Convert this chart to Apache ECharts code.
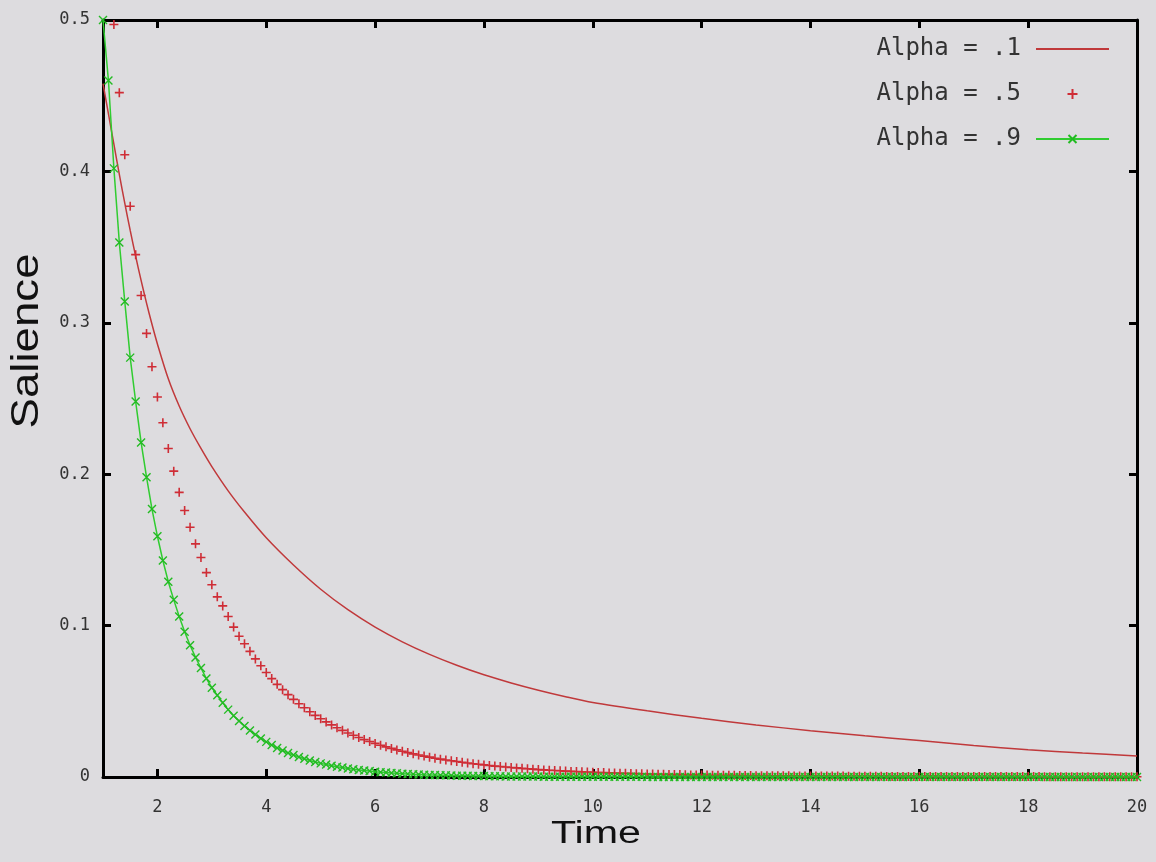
<!DOCTYPE html>
<html><head><meta charset="utf-8">
<script src="https://cdn.jsdelivr.net/npm/echarts@6/dist/echarts.min.js"></script>
<style>html,body{margin:0;padding:0;background:#dddcdf}#c{width:1156px;height:862px}</style>
</head><body><div id="c"></div>
<script>
// sample times (0.1 steps)
const time = [
1.0,1.1,1.2,1.3,1.4,1.5,1.6,1.7,1.8,1.9,
2.0,2.1,2.2,2.3,2.4,2.5,2.6,2.7,2.8,2.9,
3.0,3.1,3.2,3.3,3.4,3.5,3.6,3.7,3.8,3.9,
4.0,4.1,4.2,4.3,4.4,4.5,4.6,4.7,4.8,4.9,
5.0,5.1,5.2,5.3,5.4,5.5,5.6,5.7,5.8,5.9,
6.0,6.1,6.2,6.3,6.4,6.5,6.6,6.7,6.8,6.9,
7.0,7.1,7.2,7.3,7.4,7.5,7.6,7.7,7.8,7.9,
8.0,8.1,8.2,8.3,8.4,8.5,8.6,8.7,8.8,8.9,
9.0,9.1,9.2,9.3,9.4,9.5,9.6,9.7,9.8,9.9,
10.0,10.1,10.2,10.3,10.4,10.5,10.6,10.7,10.8,10.9,
11.0,11.1,11.2,11.3,11.4,11.5,11.6,11.7,11.8,11.9,
12.0,12.1,12.2,12.3,12.4,12.5,12.6,12.7,12.8,12.9,
13.0,13.1,13.2,13.3,13.4,13.5,13.6,13.7,13.8,13.9,
14.0,14.1,14.2,14.3,14.4,14.5,14.6,14.7,14.8,14.9,
15.0,15.1,15.2,15.3,15.4,15.5,15.6,15.7,15.8,15.9,
16.0,16.1,16.2,16.3,16.4,16.5,16.6,16.7,16.8,16.9,
17.0,17.1,17.2,17.3,17.4,17.5,17.6,17.7,17.8,17.9,
18.0,18.1,18.2,18.3,18.4,18.5,18.6,18.7,18.8,18.9,
19.0,19.1,19.2,19.3,19.4,19.5,19.6,19.7,19.8,19.9,
20.0];

// Alpha = .5 (points)
const alpha05 = [
null,null,0.497,0.452,0.411,0.377,0.345,0.318,0.293,0.271,
0.251,0.234,0.217,0.202,0.188,0.176,0.165,0.154,0.145,0.135,
0.127,0.119,0.113,0.106,0.099,0.093,0.088,0.083,0.078,0.0735,
0.069,0.065,0.0612,0.0577,0.0544,0.0513,0.0484,0.0457,0.0431,0.0407,
0.0385,0.0364,0.0344,0.0325,0.0308,0.0291,0.0276,0.0261,0.0247,0.0234,
0.0222,0.021,0.0199,0.0189,0.0179,0.017,0.0161,0.0153,0.0145,0.0138,
0.0131,0.0124,0.0118,0.0112,0.0107,0.0102,0.0097,0.0092,0.0088,0.0084,
0.008,0.0076,0.0072,0.0069,0.0066,0.0063,0.006,0.0057,0.0054,0.0052,
0.0049,0.0047,0.0045,0.0043,0.0041,0.0039,0.0037,0.0036,0.0034,0.0033,
0.0031,0.003,0.0029,0.0027,0.0026,0.0025,0.0024,0.0023,0.0022,0.0021,
0.002,0.0019,0.0018,0.0018,0.0017,0.0016,0.0016,0.0015,0.0014,0.0014,
0.0013,0.0013,0.0012,0.0012,0.0011,0.0011,0.0011,0.001,0.001,0.001,
0.0009,0.0009,0.0009,0.0008,0.0008,0.0008,0.0008,0.0007,0.0007,0.0007,
0.0007,0.0006,0.0006,0.0006,0.0006,0.0006,0.0006,0.0005,0.0005,0.0005,
0.0005,0.0005,0.0005,0.0005,0.0004,0.0004,0.0004,0.0004,0.0004,0.0004,
0.0004,0.0004,0.0004,0.0004,0.0004,0.0003,0.0003,0.0003,0.0003,0.0003,
0.0003,0.0003,0.0003,0.0003,0.0003,0.0003,0.0003,0.0003,0.0003,0.0003,
0.0003,0.0003,0.0003,0.0002,0.0002,0.0002,0.0002,0.0002,0.0002,0.0002,
0.0002,0.0002,0.0002,0.0002,0.0002,0.0002,0.0002,0.0002,0.0002,0.0002,
0.0002];

// Alpha = .9 (line + points)
const alpha09 = [
0.5,0.46,0.402,0.353,0.314,0.277,0.248,0.221,0.198,0.177,
0.159,0.143,0.129,0.117,0.106,0.096,0.087,0.079,0.072,0.065,
0.059,0.054,0.049,0.0445,0.0405,0.037,0.0337,0.0307,0.028,0.0255,
0.0232,0.0211,0.0192,0.0175,0.0159,0.0145,0.0132,0.012,0.0109,0.0099,
0.009,0.0082,0.0075,0.0068,0.0062,0.0056,0.0051,0.0047,0.0043,0.0039,
0.0035,0.0032,0.0029,0.0027,0.0024,0.0022,0.002,0.0018,0.0017,0.0015,
0.0014,0.0013,0.0012,0.0011,0.001,0.0009,0.0008,0.0008,0.0007,0.0006,
0.0006,0.0005,0.0005,0.0005,0.0004,0.0004,0.0004,0.0003,0.0003,0.0003,
0.0003,0.0002,0.0002,0.0002,0.0002,0.0002,0.0002,0.0002,0.0002,0.0002,
0.0002,0.0002,0.0001,0.0001,0.0001,0.0001,0.0001,0.0001,0.0001,0.0001,
0,0,0,0,0,0,0,0,0,0,
0,0,0,0,0,0,0,0,0,0,
0,0,0,0,0,0,0,0,0,0,
0,0,0,0,0,0,0,0,0,0,
0,0,0,0,0,0,0,0,0,0,
0,0,0,0,0,0,0,0,0,0,
0,0,0,0,0,0,0,0,0,0,
0,0,0,0,0,0,0,0,0,0,
0,0,0,0,0,0,0,0,0,0,
0];

// Alpha = .1 (line)
const alpha01Time = [1.0,1.1,1.2,1.3,1.4,1.5,1.6,1.7,1.8,1.9,2.0,2.2,2.4,2.6,2.8,3.0,3.3,3.6,4.0,4.5,5.0,5.5,6.0,6.5,7.0,7.5,8.0,8.5,9.0,9.5,10,11,12,13,14,15,16,17,18,19,20];
const alpha01 = [0.458,0.438,0.418,0.398,0.379,0.361,0.344,0.328,0.313,0.299,0.286,0.263,0.245,0.230,0.217,0.205,0.189,0.175,0.158,0.140,0.124,0.1105,0.099,0.0893,0.081,0.0738,0.0675,0.0621,0.0573,0.053,0.0492,0.0437,0.0388,0.0344,0.0306,0.0272,0.0241,0.0208,0.018,0.0158,0.0139];

const seriesNames = ['Alpha = .1','Alpha = .5','Alpha = .9'];
const xTicks = [2,4,6,8,10,12,14,16,18,20];
const yTicks = [0,0.1,0.2,0.3,0.4,0.5];
const xTitle = 'Time';
const yTitle = 'Salience';

const zip = (xs, ys) => xs.map((x, i) => [x, ys[i]]).filter(p => p[1] !== null);

const PLUS = 'path://M5,0L5,10M0,5L10,5';
const CROSS = 'path://M0,0L10,10M10,0L0,10';
const labelFont = {fontFamily: 'DejaVu Sans Mono', fontSize: 17, color: '#333'};
const axisLine = {show: true, onZero: false, lineStyle: {color: '#000', width: 3}};
const tick = {show: true, inside: true, length: 8, lineStyle: {color: '#000', width: 3}};

const chart = echarts.init(document.getElementById('c'), null, {renderer: 'canvas'});
chart.setOption({
  backgroundColor: '#dddcdf',
  animation: false,
  grid: {left: 103, right: 19, top: 20, bottom: 85, containLabel: false},
  xAxis: [
    {type: 'value', min: 1, max: 20, position: 'bottom', axisLine,
     axisTick: Object.assign({customValues: xTicks}, tick),
     axisLabel: Object.assign({customValues: xTicks, margin: 22}, labelFont),
     splitLine: {show: false}},
    {type: 'value', min: 1, max: 20, position: 'top', axisLine,
     axisTick: Object.assign({customValues: xTicks}, tick),
     axisLabel: {show: false}, splitLine: {show: false}}
  ],
  yAxis: [
    {type: 'value', min: 0, max: 0.5, interval: 0.1, position: 'left', axisLine,
     axisTick: tick, axisLabel: Object.assign({margin: 13, customValues: yTicks}, labelFont),
     splitLine: {show: false}},
    {type: 'value', min: 0, max: 0.5, interval: 0.1, position: 'right', axisLine,
     axisTick: tick, axisLabel: {show: false}, splitLine: {show: false}}
  ],
  legend: {
    orient: 'vertical', right: 41, top: 32, align: 'right',
    itemWidth: 73, itemHeight: 10, itemGap: 21,
    textStyle: {fontFamily: 'DejaVu Sans Mono', fontSize: 24, color: '#333', lineHeight: 24, padding: [0, 10, 0, 0]},
    data: [
      {name: seriesNames[0], itemStyle: {color: 'rgba(0,0,0,0)', borderWidth: 0, opacity: 0}},
      {name: seriesNames[1]},
      {name: seriesNames[2]}
    ]
  },
  series: [
    {name: seriesNames[0], type: 'line', data: zip(alpha01Time, alpha01), smooth: 0.3,
     symbol: 'none', lineStyle: {color: '#c0393b', width: 1.5}, itemStyle: {color: '#c0393b'}, z: 2},
    {name: seriesNames[1], type: 'scatter', data: zip(time, alpha05), symbol: PLUS, symbolSize: 9,
     itemStyle: {color: 'rgba(0,0,0,0)', borderColor: '#cf2d36', borderWidth: 1.6, opacity: 1}, z: 3},
    {name: seriesNames[2], type: 'line', data: zip(time, alpha09), symbol: CROSS, symbolSize: 8,
     showSymbol: true, showAllSymbol: true,
     lineStyle: {color: '#30cc30', width: 1.5},
     itemStyle: {color: 'rgba(0,0,0,0)', borderColor: '#22bb22', borderWidth: 1.4}, z: 4}
  ],
  graphic: [
    {type: 'text', x: 27.5, y: 341, rotation: Math.PI / 2, scaleX: 1.17,
     style: {text: yTitle, font: '39px "Liberation Sans"', fill: '#111', align: 'center', verticalAlign: 'middle'}},
    {type: 'text', x: 596, y: 834, scaleX: 1.33,
     style: {text: xTitle, font: '31px "Liberation Sans"', fill: '#111', align: 'center', verticalAlign: 'middle'}}
  ]
});
</script></body></html>
